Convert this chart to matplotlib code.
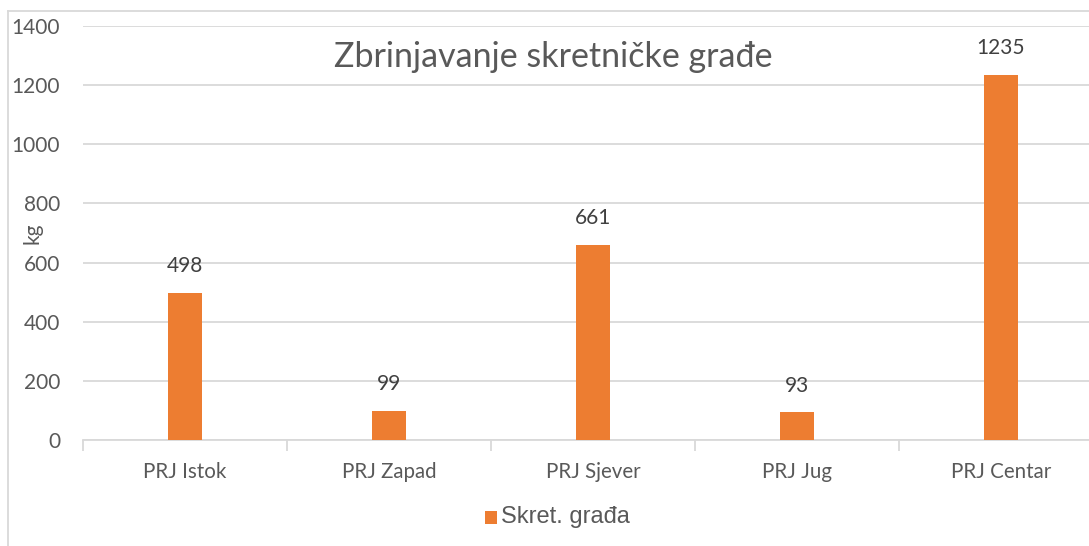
import matplotlib
matplotlib.use('Agg')
from matplotlib import pyplot as plt
from matplotlib.lines import Line2D
from matplotlib.patches import Rectangle
import numpy as np

categories = ['PRJ Istok', 'PRJ Zapad', 'PRJ Sjever', 'PRJ Jug', 'PRJ Centar']
values = [498, 99, 661, 93, 1235]
series_name = 'Skret. građa'
title = 'Zbrinjavanje skretničke građe'
y_ticks = [0, 200, 400, 600, 800, 1000, 1200, 1400]

ORANGE = '#ED7D31'
GRID = '#D9D9D9'
TEXT = '#595959'

plt.rcParams['font.family'] = ['Lato', 'DejaVu Sans']

W, H = 1089, 546
fig = plt.figure(figsize=(W / 100, H / 100), dpi=100)

# chart is cropped on the right, so the axes run past the figure edge
ax = fig.add_axes([83 / W, 106 / H, (1103 - 83) / W, (440 - 26) / H])
x = np.arange(len(categories))
bars = ax.bar(x, values, width=0.17, color=ORANGE, zorder=3, label=series_name)

ax.set_xlim(-0.5, len(categories) - 0.5)
ax.set_ylim(0, 1400)
ax.set_yticks(y_ticks)
ax.set_yticklabels([str(v) for v in y_ticks], fontsize=15, color=TEXT)
ax.yaxis.grid(True, color=GRID, linewidth=1.3, zorder=0)
ax.tick_params(axis='y', length=0, pad=16.5)

# category labels in the middle, ticks on the category borders
ax.set_xticks(x)
ax.set_xticklabels(categories, fontsize=14.8, color=TEXT)
ax.tick_params(axis='x', which='major', length=0, pad=16)
ax.set_xticks(np.arange(-0.5, len(categories)), minor=True)
ax.tick_params(axis='x', which='minor', length=8, width=1.3, color=GRID)

for s in ['top', 'right', 'left']:
    ax.spines[s].set_visible(False)
ax.spines['bottom'].set_color(GRID)
ax.spines['bottom'].set_linewidth(1.3)

for b, v in zip(bars, values):
    ax.annotate(str(v), (b.get_x() + b.get_width() / 2, v), xytext=(0, 12),
                textcoords='offset points', ha='center', va='bottom',
                fontsize=15, color='#404040')

ax.set_ylabel('kg', fontsize=15, color=TEXT)
ax.yaxis.set_label_coords(-(83 - 42) / (1103 - 83), (440 - 233) / (440 - 26))

fig.text(553 / W, 1 - 57 / H, title, ha='center', va='center', fontsize=24.5, color=TEXT)

# legend
fig.patches.append(Rectangle((485 / W, 1 - 524 / H), 12 / W, 13 / H, transform=fig.transFigure,
                             facecolor=ORANGE, edgecolor='none'))
fig.text(501 / W, 1 - 517 / H, series_name, ha='left', va='center', fontsize=17,
         color=TEXT, family=['Liberation Sans', 'DejaVu Sans'])

# outer chart border (top and left only visible)
fig.lines.append(Line2D([8 / W, 8 / W], [0, 1 - 11 / H], transform=fig.transFigure, color=GRID, lw=1.3))
fig.lines.append(Line2D([8 / W, 1], [1 - 11 / H, 1 - 11 / H], transform=fig.transFigure, color=GRID, lw=1.3))

fig.savefig('out.png', dpi=100)
